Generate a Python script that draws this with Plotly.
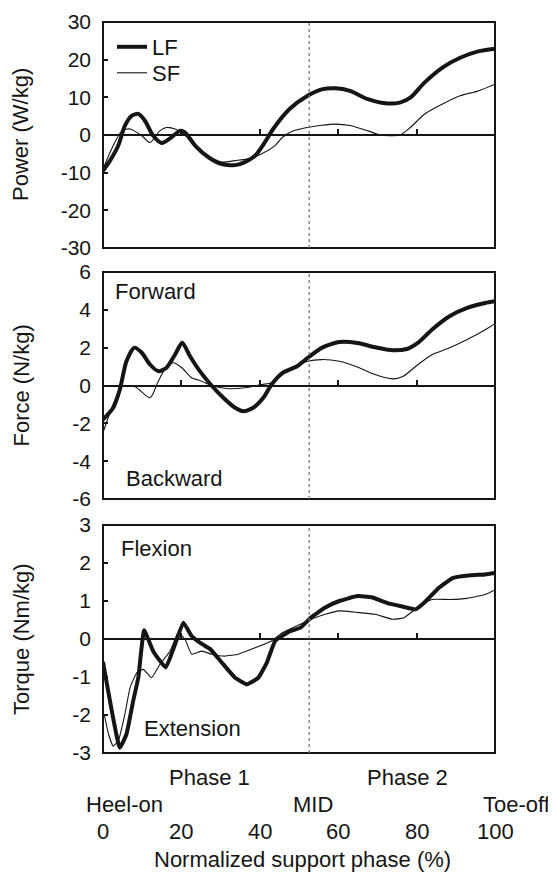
import plotly.graph_objects as go

# The page body has an 8px default margin, so the figure is laid out 8px in.
OFF = 8
W, H = 556 - OFF, 872 - OFF

# ---------------- data ----------------
power_lf_x = [0, 1.8, 3.9, 5.6, 7.3, 9, 10.7, 12.8, 15, 17.1, 19.6, 20.9, 23.5, 26.9, 30.3, 33.7, 36.2, 38.8, 41.3, 43.4,
              47.6, 52.2, 55.8, 59.4, 63, 67.6, 72, 75.7, 78.4, 82, 86.6, 91.1, 95.7, 100]
power_lf_y = [-9.5, -6.8, -2.8, 2.5, 5.1, 5.6, 3.8, -0.2, -2.1, -0.9, 1.1, 0.7, -2.8, -5.9, -7.7, -8.0, -7.2, -5.5, -1.9, 1.6,
              6.9, 10.4, 12.1, 12.4, 11.7, 9.5, 8.4, 8.6, 9.9, 13.9, 17.9, 20.5, 22.2, 22.9]

power_sf_x = [0, 2.2, 4.8, 6.9, 9.9, 12, 14.5, 16.2, 18.4, 20.5, 23.5, 26.9, 30.3, 33.7, 36.7, 40.5, 43.9,
              45.8, 48.6, 52.2, 55.8, 59.4, 63, 67.6, 70.7, 75.7, 78.4, 82, 86.6, 91.1, 95.7, 100]
power_sf_y = [-9.0, -3.7, 1.1, 1.6, -0.2, -2.0, 1.1, 2.0, 1.6, 0.3, -2.8, -5.9, -7.2, -6.8, -6.4, -5.0, -2.8,
              -0.6, 1.1, 2.0, 2.6, 2.9, 2.5, 1.1, 0.0, 0.0, 2.0, 5.5, 8.2, 10.4, 11.7, 13.5]

force_lf_x = [0, 2.6, 4.3, 6, 8, 9.9, 12, 14.1, 16.2, 18.4, 20.2, 22.2, 24.7, 27.7, 30.7, 33.7, 35.8, 38.3, 40.9, 43,
              45.8, 49.5, 52.2, 55.8, 60.3, 64.9, 69.4, 73.9, 77.5, 80.3, 83.9, 88.4, 92.9, 97.5, 100]
force_lf_y = [-1.8, -1.18, -0.21, 1.29, 2.0, 1.73, 1.11, 0.76, 0.94, 1.64, 2.26, 1.55, 0.76, 0.0, -0.65, -1.18, -1.36, -1.18, -0.65, 0.05,
              0.67, 1.02, 1.46, 1.99, 2.3, 2.25, 2.02, 1.86, 1.93, 2.25, 2.95, 3.66, 4.1, 4.36, 4.45]

force_sf_x = [0, 1.5, 3.1, 4.8, 8.2, 12, 14.1, 15.8, 17.9, 20.1, 22.6, 25.2, 27.7, 32, 36.2, 40.5, 43,
              47.6, 52.2, 55.8, 60.3, 64.9, 69.4, 73.9, 76.6, 80.3, 83.9, 88.4, 92.9, 97.5, 100]
force_sf_y = [-2.5, -1.6, -0.74, -0.04, -0.07, -0.65, 0.23, 0.85, 1.2, 0.94, 0.41, 0.23, 0.0, -0.17, -0.12, 0.05, 0.14,
              0.84, 1.28, 1.37, 1.28, 0.98, 0.58, 0.35, 0.49, 1.1, 1.63, 1.99, 2.43, 2.95, 3.27]

torque_lf_x = [0, 4.3, 6, 7.7, 9, 10.5, 12.8, 16, 18.4, 20.5, 22.6, 25.2, 27.3, 30.3, 33.7, 36.7, 39.6, 41.8, 43.9,
               47.6, 50.4, 53.1, 56.7, 60.3, 64.9, 68.5, 73, 76.6, 79.7, 82, 85.7, 89.3, 93.8, 97.5, 100]
torque_lf_y = [-0.6, -2.86, -2.5, -1.63, -1.02, 0.23, -0.32, -0.75, -0.13, 0.43, 0.08, -0.13, -0.26, -0.62, -1.02, -1.19, -1.02, -0.62, -0.05,
               0.2, 0.3, 0.57, 0.83, 1.0, 1.13, 1.1, 0.93, 0.85, 0.78, 0.96, 1.35, 1.61, 1.68, 1.7, 1.74]

torque_sf_x = [0.3, 1.4, 2.6, 3.9, 5.6, 6.9, 8.6, 10.3, 12.4, 14.5, 17.1, 19.2, 20.9, 22.6, 25.2, 27.7, 31.1, 34.5, 38.8, 43,
               45.8, 49.5, 53.1, 56.7, 60.3, 64.9, 69.4, 73.9, 76.6, 80.3, 83.9, 88.4, 92.9, 97.5, 100]
torque_sf_y = [-1.98, -2.5, -2.82, -2.68, -1.97, -1.28, -0.89, -0.8, -1.02, -0.67, -0.32, 0.17, 0.0, -0.4, -0.32, -0.4, -0.45, -0.4, -0.23, -0.05,
               0.17, 0.35, 0.52, 0.65, 0.74, 0.7, 0.65, 0.52, 0.55, 0.83, 1.04, 1.04, 1.07, 1.17, 1.29]

x_tick_vals = [0, 20, 40, 60, 80, 100]
x_zero_ticks = [20, 40, 60, 80]
power_ticks = [-30, -20, -10, 0, 10, 20, 30]
force_ticks = [-6, -4, -2, 0, 2, 4, 6]
torque_ticks = [-3, -2, -1, 0, 1, 2, 3]
mid_x = 52.6

series_names = ["LF", "SF"]
y_titles = ["Power (W/kg)", "Force (N/kg)", "Torque (Nm/kg)"]

# ---------------- layout helpers (page pixels -> paper) ----------------
def px_x(p):
    return (p - OFF) / W

def px_y(p):
    return 1 - (p - OFF) / H

FONT = "Arial, 'Liberation Sans', sans-serif"
FS = 22
FT = 21
INK = "#151515"

x_dom = [px_x(103), px_x(495)]
panels = [(22, 248), (272, 499), (525, 753)]
y_doms = [[px_y(b), px_y(t)] for t, b in panels]

fig = go.Figure()

data = [
    (power_lf_x, power_lf_y, power_sf_x, power_sf_y, power_ticks),
    (force_lf_x, force_lf_y, force_sf_x, force_sf_y, force_ticks),
    (torque_lf_x, torque_lf_y, torque_sf_x, torque_sf_y, torque_ticks),
]

for i, (lx, ly, sx, sy, ticks) in enumerate(data):
    n = "" if i == 0 else str(i + 1)
    smooth = 0.7 if i < 2 else 0.35
    fig.add_trace(go.Scatter(x=sx, y=sy, mode="lines", name=series_names[1],
                             line=dict(color=INK, width=1.1, shape="spline", smoothing=smooth),
                             xaxis="x" + n, yaxis="y" + n, showlegend=(i == 0),
                             legend="legend2"))
    fig.add_trace(go.Scatter(x=lx, y=ly, mode="lines", name=series_names[0],
                             line=dict(color=INK, width=4, shape="spline", smoothing=smooth),
                             xaxis="x" + n, yaxis="y" + n, showlegend=(i == 0),
                             legend="legend"))
    yd = y_doms[i]
    fig.layout["xaxis" + n] = dict(
        domain=x_dom, range=[0, 100], anchor="free", position=(yd[0] + yd[1]) / 2,
        showline=True, linecolor=INK, linewidth=2, showgrid=False, zeroline=False,
        ticks="inside", ticklen=5, tickwidth=1.5, tickcolor=INK, automargin=False,
        tickvals=x_zero_ticks, showticklabels=False, fixedrange=True,
    )
    fig.layout["yaxis" + n] = dict(
        domain=yd, range=[ticks[0], ticks[-1]], anchor="x" + n,
        showline=False, showgrid=False, zeroline=False, automargin=False,
        ticks="inside", ticklen=5, tickwidth=1.5, tickcolor=INK,
        tickvals=ticks, ticktext=[str(t) for t in ticks], ticklabelstandoff=11,
        tickfont=dict(family=FONT, size=FT, color=INK), fixedrange=True,
    )
    # frame
    fig.add_shape(type="rect", xref="x" + n + " domain", yref="y" + n + " domain",
                  x0=0, x1=1, y0=0, y1=1, line=dict(color=INK, width=2), layer="above")
    # mid-stance dotted line
    fig.add_shape(type="line", xref="x" + n, yref="y" + n + " domain",
                  x0=mid_x, x1=mid_x, y0=0, y1=1, line=dict(color="#777", width=1.3, dash="dot"))
    # y title
    fig.add_annotation(text=y_titles[i], xref="paper", yref="paper",
                       x=px_x(21), y=(yd[0] + yd[1]) / 2, textangle=-90, showarrow=False,
                       font=dict(family=FONT, size=FS, color=INK), xanchor="center", yanchor="middle")

# in-panel labels
labels = [
    ("Forward", 113, 291), ("Backward", 124, 478),
    ("Flexion", 119, 548), ("Extension", 142, 728),
]
for t, x, y in labels:
    fig.add_annotation(text=t, xref="paper", yref="paper", x=px_x(x), y=px_y(y),
                       xanchor="left", yanchor="middle", showarrow=False,
                       font=dict(family=FONT, size=FS, color=INK))

# x tick labels under the bottom panel
for v in x_tick_vals:
    fig.add_annotation(text=str(v), xref="x3", yref="paper", x=v, y=px_y(831),
                       xanchor="center", yanchor="middle", showarrow=False,
                       font=dict(family=FONT, size=FS, color=INK))

under = [
    ("Phase 1", 209, 777), ("Phase 2", 407, 777),
    ("Heel-on", 124, 804), ("MID", 313, 804), ("Toe-off", 517, 804),
    ("Normalized support phase (%)", 302, 859),
]
for t, x, y in under:
    fig.add_annotation(text=t, xref="paper", yref="paper", x=px_x(x), y=px_y(y),
                       xanchor="center", yanchor="middle", showarrow=False,
                       font=dict(family=FONT, size=FS, color=INK))

leg_common = dict(xanchor="left", yanchor="middle", bgcolor="rgba(0,0,0,0)", borderwidth=0,
                  itemwidth=30, font=dict(family=FONT, size=FS, color=INK))
fig.update_layout(
    width=W, height=H, margin=dict(l=0, r=0, t=0, b=0, autoexpand=False),
    paper_bgcolor="white", plot_bgcolor="white",
    font=dict(family=FONT, size=FS, color=INK),
    showlegend=True,
    legend=dict(x=px_x(112), y=px_y(47), **leg_common),
    legend2=dict(x=px_x(112), y=px_y(73), **leg_common),
)

fig.write_html("out.html")
